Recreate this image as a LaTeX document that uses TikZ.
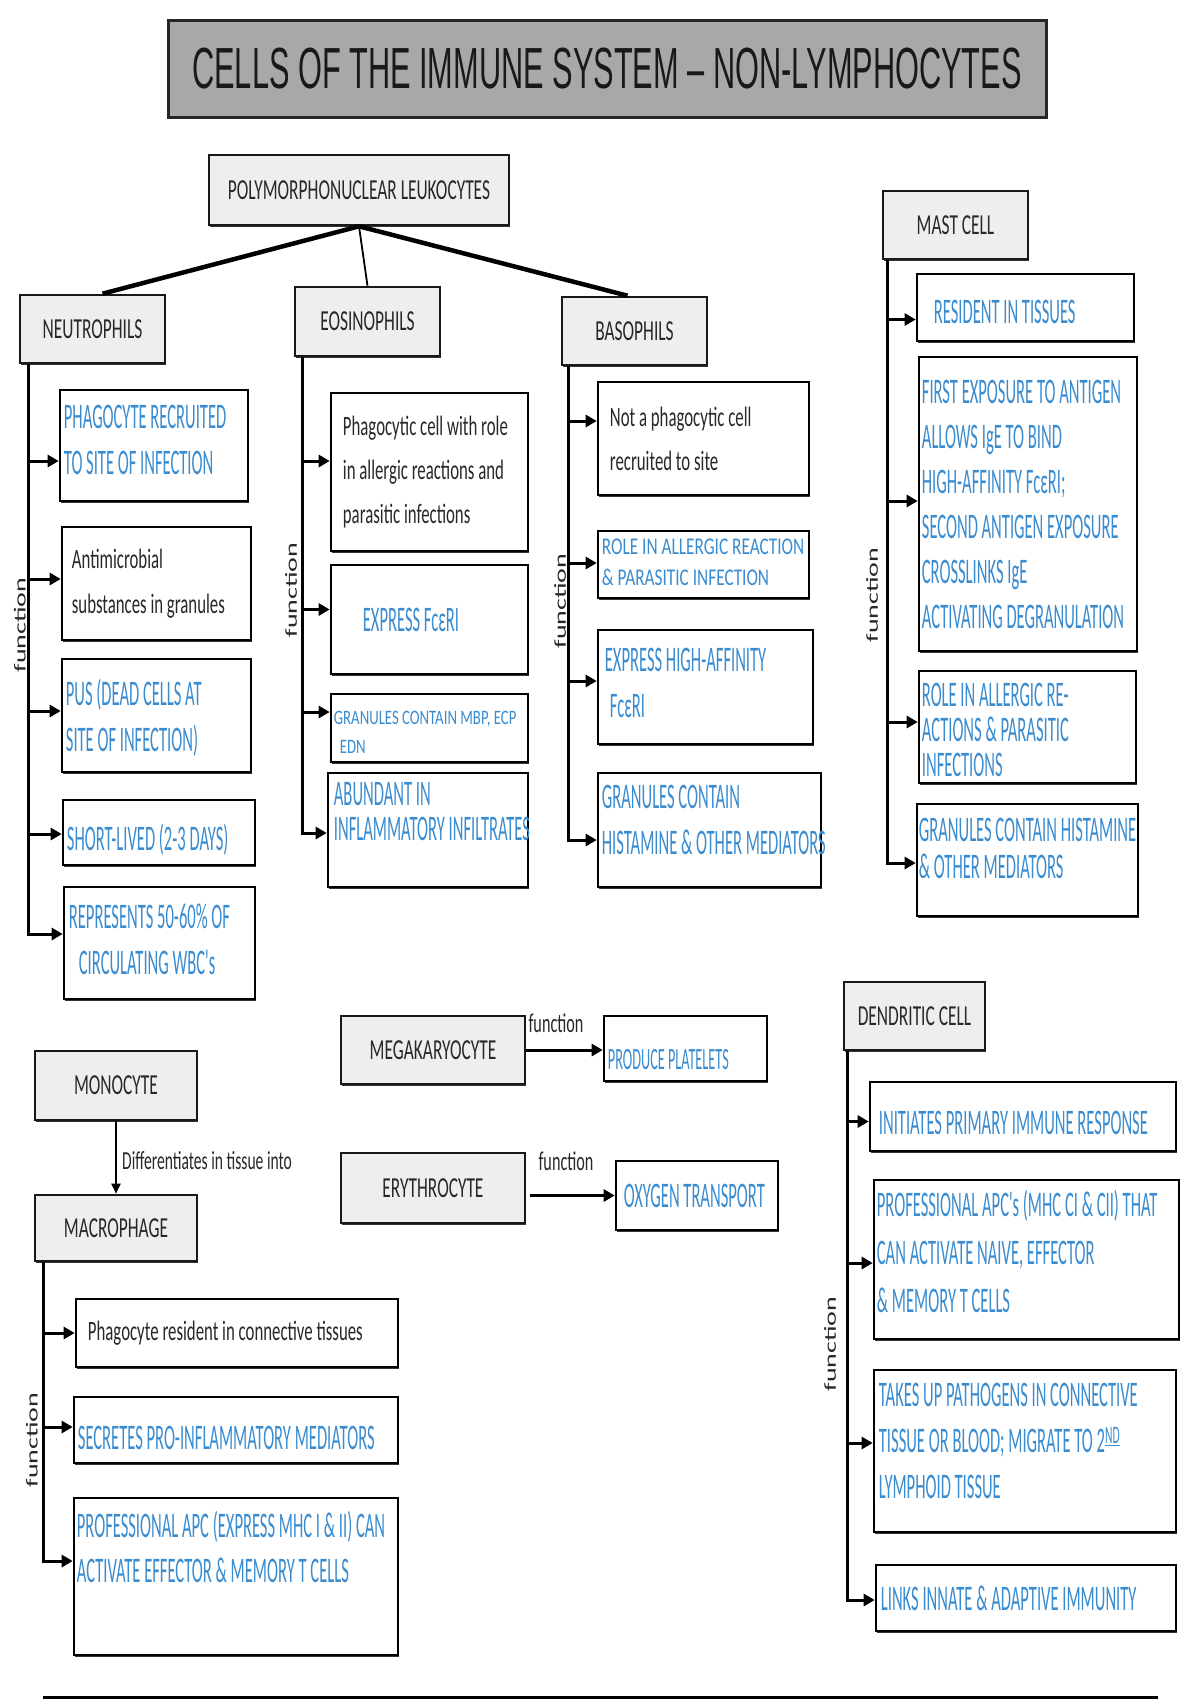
\documentclass[tikz,border=0pt]{standalone}
\usepackage{fontspec}
\usetikzlibrary{arrows.meta,shadows}
\newfontfamily\labfont[FakeStretch=0.6]{Carlito}
\newfontfamily\handfont[FakeStretch=0.46]{Carlito}
\newfontfamily\handwide[FakeStretch=0.72]{Carlito}
\newfontfamily\ttlfont[FakeStretch=0.53]{Liberation Sans}
\newfontfamily\rotfont{Carlito}
\definecolor{handblue}{RGB}{58,140,208}
\definecolor{boxgray}{RGB}{238,238,238}
\definecolor{titlegray}{RGB}{168,168,168}
\definecolor{ink}{RGB}{40,40,40}
% #1 name, #2 x1, #3 y1, #4 x2, #5 y2, #6 text options, #7 text
\newcommand\ibox[7]{%
  \pgfmathsetmacro\BXw{#4-#2}%
  \pgfmathsetmacro\BXh{#5-#3}%
  \pgfmathsetmacro\BXx{(#2+#4)/2}%
  \pgfmathsetmacro\BXy{(#3+#5)/2}%
  \node[wbox, minimum width=\BXw pt, minimum height=\BXh pt] (#1) at (\BXx,\BXy) {};%
  \node[anchor=west, #6] (#1t) at (#1.west) {#7};%
}
\begin{document}
\begin{tikzpicture}[x=1pt,y=-1pt,
  shad/.style={drop shadow={shadow xshift=0.6pt,shadow yshift=-2.2pt,fill=black!80,opacity=1}},
  wbox/.style={draw=black,line width=2.6pt,fill=white,shad,inner sep=0pt},
  gbox/.style={draw=black!90,line width=2.6pt,fill=boxgray,shad,inner sep=0pt,
    font=\labfont\fontsize{29}{34}\selectfont,text=ink},
  hand/.style={font=\handfont\fontsize{36}{46}\selectfont,text=handblue,align=left,inner sep=0pt},
  plain/.style={font=\labfont\fontsize{28}{45}\selectfont,text=ink,align=left,inner sep=0pt},
  conn/.style={line width=3pt,-{Triangle[length=11pt,width=12pt]}},
  rotlab/.style={rotate=90,inner sep=0pt,font=\rotfont\fontsize{28}{30}\selectfont,text=ink},
  fnlab/.style={inner sep=0pt,font=\labfont\fontsize{27}{30}\selectfont,text=ink},
]
\fill[white] (0,0) rectangle (1200,1700);
\useasboundingbox (0,0) rectangle (1200,1700);

% title
\node[draw=black!85,line width=3pt,fill=titlegray,shad,minimum width=878pt,minimum height=97pt,
  inner sep=0pt,font=\ttlfont\fontsize{58}{60}\selectfont,text=black!90] (title) at (607,68.5)
  {CELLS OF THE IMMUNE SYSTEM – NON-LYMPHOCYTES};

% header boxes
\node[gbox,minimum width=300pt,minimum height=70pt] (poly) at (359,190) {POLYMORPHONUCLEAR LEUKOCYTES};
\node[gbox,minimum width=145pt,minimum height=68pt] (neut) at (92.5,329) {NEUTROPHILS};
\node[gbox,minimum width=145pt,minimum height=69pt] (eos) at (367.5,321.5) {EOSINOPHILS};
\node[gbox,minimum width=145pt,minimum height=68pt] (baso) at (634.5,331) {BASOPHILS};
\node[gbox,minimum width=145pt,minimum height=68pt] (mast) at (955.5,225) {MAST CELL};
\node[gbox,minimum width=184pt,minimum height=68pt] (mega) at (433,1050) {MEGAKARYOCYTE};
\node[gbox,minimum width=184pt,minimum height=70pt] (eryth) at (433,1188) {ERYTHROCYTE};
\node[gbox,minimum width=162pt,minimum height=69pt] (mono) at (116,1085.5) {MONOCYTE};
\node[gbox,minimum width=162pt,minimum height=66pt] (macro) at (116,1228) {MACROPHAGE};
\node[gbox,minimum width=141pt,minimum height=68pt] (dend) at (914.5,1016) {DENDRITIC CELL};

% poly connectors
\draw[line width=4.5pt] (poly.south) -- ([xshift=10pt]neut.north);
\draw[line width=4.5pt] (poly.south) -- ([xshift=-7pt]baso.north);
\draw[line width=1.8pt] (poly.south) -- (eos.north);

% neutrophils
\ibox{n1}{60}{390}{248}{501}{hand,xshift=5pt,yshift=5.5pt}{PHAGOCYTE RECRUITED\\TO SITE OF INFECTION}
\ibox{n2}{62}{527}{251}{640}{plain,xshift=11pt}{Antimicrobial\\substances in granules}
\ibox{n3}{62}{659}{251}{772}{hand,xshift=5pt,yshift=-2pt}{PUS (DEAD CELLS AT\\SITE OF INFECTION)}
\ibox{n4}{63}{800}{255}{865}{hand,xshift=5pt,yshift=-7pt}{SHORT-LIVED (2-3 DAYS)}
\ibox{n5}{64}{887}{255}{999}{hand,xshift=6pt,yshift=4pt}{REPRESENTS 50-60\% OF\\\hspace*{10pt}CIRCULATING WBC's}

% eosinophils
\ibox{e1}{331}{393}{528}{551}{plain,xshift=13pt,font=\labfont\fontsize{28}{44}\selectfont}{Phagocytic cell with role\\in allergic reactions and\\parasitic infections}
\ibox{e2}{331}{565}{528}{674}{hand,xshift=33pt}{EXPRESS FcεRI}
\ibox{e3}{331}{694}{528}{762}{hand,xshift=4pt,yshift=-4pt,font=\handwide\fontsize{20.5}{29}\selectfont}{GRANULES CONTAIN MBP, ECP\\\hspace*{6pt}EDN}
\ibox{e4}{328}{773}{528}{887}{hand,xshift=7pt,yshift=18pt,font=\handfont\fontsize{36}{35}\selectfont}{ABUNDANT IN\\INFLAMMATORY INFILTRATES}

% basophils
\ibox{b1}{598}{382}{809}{495}{plain,xshift=13pt,font=\labfont\fontsize{28}{44}\selectfont}{Not a phagocytic cell\\recruited to site}
\ibox{b2}{598}{531}{809}{598}{hand,xshift=5pt,yshift=2pt,font=\handwide\fontsize{24}{31}\selectfont}{ROLE IN ALLERGIC REACTION\\\& PARASITIC INFECTION}
\ibox{b3}{598}{630}{813}{744}{hand,xshift=8pt,yshift=4pt}{EXPRESS HIGH-AFFINITY\\\hspace*{5pt}FcεRI}
\ibox{b4}{598}{773}{821}{887}{hand,xshift=5pt,yshift=10pt}{GRANULES CONTAIN\\HISTAMINE \& OTHER MEDIATORS}

% mast cell
\ibox{m1}{917}{274}{1134}{341}{hand,xshift=18pt,yshift=-4pt}{RESIDENT IN TISSUES}
\ibox{m2}{919}{357}{1137}{651}{hand,xshift=4pt,font=\handfont\fontsize{36}{45}\selectfont}{FIRST EXPOSURE TO ANTIGEN\\ALLOWS IgE TO BIND\\HIGH-AFFINITY FcεRI;\\SECOND ANTIGEN EXPOSURE\\CROSSLINKS IgE\\ACTIVATING DEGRANULATION}
\ibox{m3}{919}{671}{1136}{783}{hand,xshift=4pt,yshift=-3pt,font=\handfont\fontsize{36}{35}\selectfont}{ROLE IN ALLERGIC RE-\\ACTIONS \& PARASITIC\\INFECTIONS}
\ibox{m4}{917}{804}{1138}{916}{hand,xshift=3pt,yshift=12pt,font=\handfont\fontsize{36}{37}\selectfont}{GRANULES CONTAIN HISTAMINE\\\& OTHER MEDIATORS}

% megakaryocyte / erythrocyte
\ibox{pp}{604}{1016}{767}{1081}{hand,xshift=5pt,yshift=-11pt,font=\handfont\fontsize{31}{36}\selectfont}{PRODUCE PLATELETS}
\ibox{ox}{616}{1161}{778}{1230}{hand,xshift=9pt}{OXYGEN TRANSPORT}
\draw[conn] (mega.east) -- (mega.east -| pp.west);
\draw[conn] ([xshift=4pt]eryth.east |- ox.west) -- (ox.west);
\node[fnlab] (fmega) at (556,1023) {function};
\node[fnlab] (feryth) at (566,1161) {function};

% monocyte -> macrophage
\draw[line width=2pt,-{Triangle[length=10pt,width=9pt]}] (mono.south) -- (macro.north);
\node[fnlab,anchor=west,font=\labfont\fontsize{26}{30}\selectfont] (diff) at (122,1161) {Differentiates in tissue into};

% macrophage
\ibox{a1}{76}{1299}{398}{1367}{plain,xshift=13pt}{Phagocyte resident in connective tissues}
\ibox{a2}{74}{1397}{398}{1463}{hand,xshift=5pt,yshift=-8pt}{SECRETES PRO-INFLAMMATORY MEDIATORS}
\ibox{a3}{74}{1498}{398}{1655}{hand,xshift=4pt,yshift=30pt,font=\handfont\fontsize{36}{45}\selectfont}{PROFESSIONAL APC (EXPRESS MHC I \& II) CAN\\ACTIVATE EFFECTOR \& MEMORY T CELLS}

% dendritic cell
\ibox{d1}{870}{1082}{1176}{1151}{hand,xshift=10pt,yshift=-6pt}{INITIATES PRIMARY IMMUNE RESPONSE}
\ibox{d2}{874}{1180}{1179}{1339}{hand,xshift=4pt,yshift=8pt,font=\handfont\fontsize{36}{48}\selectfont}{PROFESSIONAL APC's (MHC CI \& CII) THAT\\CAN ACTIVATE NAIVE, EFFECTOR\\\& MEMORY T CELLS}
\ibox{d3}{874}{1370}{1176}{1532}{hand,xshift=6pt,yshift=10pt}{TAKES UP PATHOGENS IN CONNECTIVE\\TISSUE OR BLOOD; MIGRATE TO 2\textsuperscript{\underline{ND}}\\LYMPHOID TISSUE}
\ibox{d4}{876}{1565}{1176}{1631}{hand,xshift=6pt}{LINKS INNATE \& ADAPTIVE IMMUNITY}

% function connectors
\foreach \bn/\dy in {n1/-15.5,n2/4.5,n3/4.5,n4/-1.5,n5/9}
  \draw[conn] ([xshift=10pt]neut.south west) |- ([yshift=\dy pt]\bn.west);
\foreach \bn/\dy in {e1/11,e2/10,e3/16,e4/-3}
  \draw[conn] ([xshift=9pt]eos.south west) |- ([yshift=\dy pt]\bn.west);
\foreach \bn/\dy in {b1/17.5,b2/1.5,b3/6,b4/-10}
  \draw[conn] ([xshift=8pt]baso.south west) |- ([yshift=\dy pt]\bn.west);
\foreach \bn/\dy in {m1/-12,m2/3,m3/5,m4/-3}
  \draw[conn] ([xshift=6pt]mast.south west) |- ([yshift=\dy pt]\bn.west);
\foreach \bn/\dy in {d1/-5,d2/-3.5,d3/8,d4/-2}
  \draw[conn] ([xshift=5pt]dend.south west) |- ([yshift=\dy pt]\bn.west);
\foreach \bn/\dy in {a1/0,a2/3,a3/15.5}
  \draw[conn] ([xshift=10pt]macro.south west) |- ([yshift=\dy pt]\bn.west);

% rotated labels
\node[rotlab] (fneut) at (20,625) {\scalebox{1}[0.6]{function}};
\node[rotlab] (feos) at (291,590) {\scalebox{1}[0.6]{function}};
\node[rotlab] (fbaso) at (560,601) {\scalebox{1}[0.6]{function}};
\node[rotlab] (fmast) at (872,595) {\scalebox{1}[0.6]{function}};
\node[rotlab] (fdend) at (830,1344) {\scalebox{1}[0.6]{function}};
\node[rotlab] (fmacro) at (32,1440) {\scalebox{1}[0.6]{function}};

% bottom rule
\draw[line width=3pt] (43,1697) -- (1158,1697);
\end{tikzpicture}
\end{document}
